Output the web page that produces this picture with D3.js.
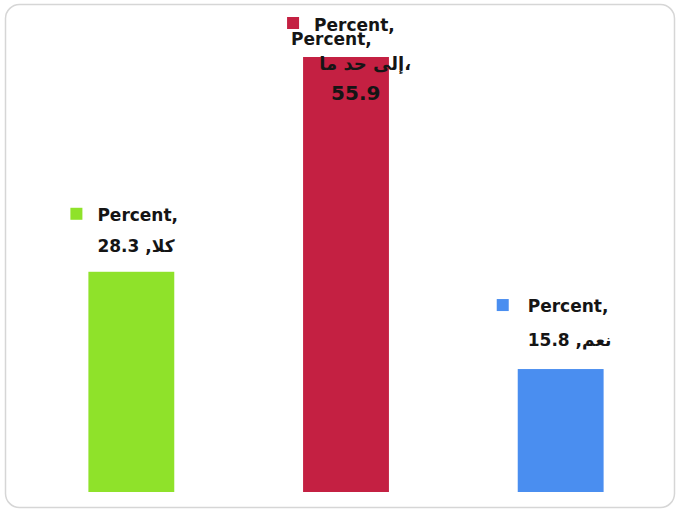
<!DOCTYPE html>
<html>
<head>
<meta charset="utf-8">
<script src="https://cdn.jsdelivr.net/npm/d3@7"></script>
<style>
  html, body { margin: 0; padding: 0; background: #fff; }
  svg { display: block; }
  text { font-family: "DejaVu Sans", Verdana, sans-serif; font-weight: bold; fill: #151515; }
</style>
</head>
<body>
<svg id="chart" width="678" height="514"></svg>
<script>
// Survey answers and their shares (percent)
const categories = ["كلا", "إلى حد ما", "نعم"];
const seriesName = "Percent";
const values = [28.3, 55.9, 15.8];
const colors = ["#8fe22a", "#c42042", "#4a8ef0"];

const W = 678, H = 514;
const svg = d3.select("#chart");

// rounded outer frame
svg.append("rect")
  .attr("x", 5.5).attr("y", 4.5).attr("width", 669).attr("height", 503)
  .attr("rx", 14).attr("fill", "#fff").attr("stroke", "#d6d6d6").attr("stroke-width", 1.5);

const plot = { left: 24, right: 668, top: 22, bottom: 492 };

const x = d3.scaleBand()
  .domain(categories)
  .range([plot.left, plot.right])
  .paddingInner(0.6)
  .paddingOuter(0.3);

const y = d3.scaleLinear()
  .domain([0, 55.9])
  .range([plot.bottom, 57]);

svg.selectAll("rect.bar")
  .data(values)
  .join("rect")
  .attr("class", "bar")
  .attr("x", (d, i) => x(categories[i]))
  .attr("y", d => y(d))
  .attr("width", x.bandwidth())
  .attr("height", d => plot.bottom - y(d))
  .attr("fill", (d, i) => colors[i]);

// data labels: legend key square + "Percent," / "value ,category"
const fs = 17;
const LRM = "\u200E";
function label(i, kx, ky) {
  const g = svg.append("g");
  g.append("rect").attr("x", kx).attr("y", ky).attr("width", 12).attr("height", 12).attr("fill", colors[i]);
  return g;
}

// left bar
{
  const i = 0, bx = x(categories[i]), top = y(values[i]);
  const g = label(i, bx - 18, top - 64);
  g.append("text").attr("x", bx + 9).attr("y", top - 51).attr("font-size", fs).text(seriesName + ",");
  g.append("text").attr("x", bx + 9).attr("y", top - 20).attr("font-size", fs)
    .text(values[i] + " ," + LRM + categories[i]);
}
// right bar
{
  const i = 2, bx = x(categories[i]), top = y(values[i]);
  const g = label(i, bx - 21, top - 70);
  g.append("text").attr("x", bx + 10).attr("y", top - 57).attr("font-size", fs).text(seriesName + ",");
  g.append("text").attr("x", bx + 10).attr("y", top - 23).attr("font-size", fs)
    .text(values[i] + " ," + LRM + categories[i]);
}
// middle bar (label runs up to the top of the frame, its two first lines overlapping)
{
  const i = 1, bx = x(categories[i]), top = y(values[i]);
  const g = label(i, bx - 16, top - 40);
  g.append("text").attr("x", bx + 11).attr("y", top - 26).attr("font-size", fs).text(seriesName + ",");
  g.append("text").attr("x", bx - 12).attr("y", top - 12).attr("font-size", fs).text(seriesName + ",");
  g.append("text").attr("x", bx + 108).attr("y", top + 13).attr("font-size", 18)
    .attr("text-anchor", "end").text(categories[i] + "،");
  g.append("text").attr("x", bx + 28).attr("y", top + 43).attr("font-size", 20).text(values[i]);
}
</script>
</body>
</html>
